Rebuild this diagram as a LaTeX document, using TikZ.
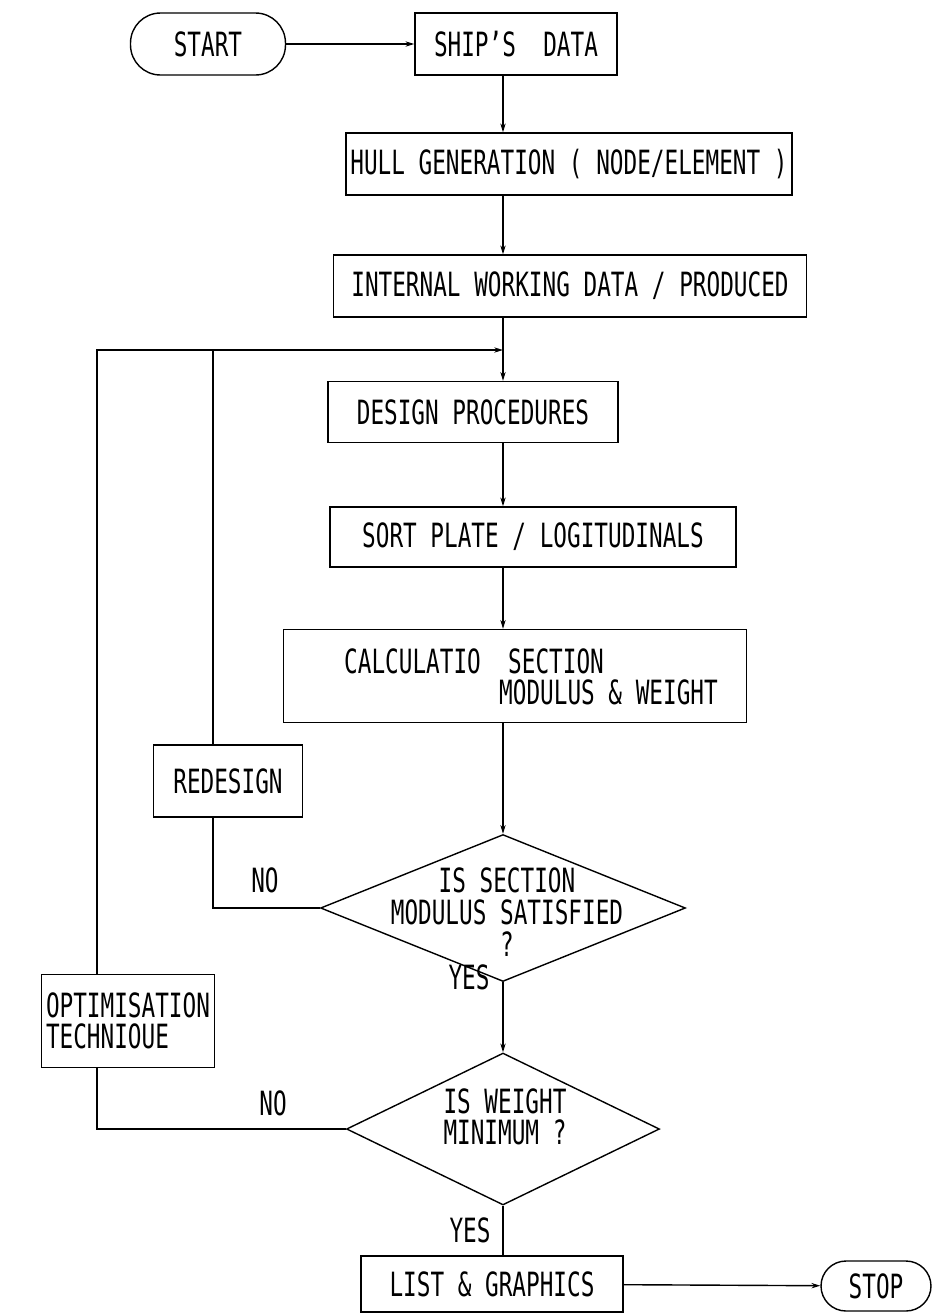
\documentclass[tikz,border=0pt]{standalone}
\usepackage{fontspec}
\setmainfont{DejaVu Sans Mono}[FakeStretch=0.68]
\usetikzlibrary{shapes,arrows.meta,positioning,calc}

\tikzset{
  box/.style={draw, thick, rectangle, inner sep=0pt},
  term/.style={draw, thick, rectangle, rounded corners=0.6cm, inner sep=0pt},
  decision/.style={draw, thick, diamond, inner sep=0pt},
  flow/.style={thick, -{Stealth[length=5pt,width=3pt]}},
  link/.style={thick}
}

\begin{document}
\begin{tikzpicture}[x=0.02cm, y=-0.02cm, font=\fontsize{19}{18}\selectfont]
\useasboundingbox (0,0) rectangle (934,1313);

% Main column
\node[term, minimum width=3.1cm, minimum height=1.24cm] (start) at (208,44) {START};
\node[box, minimum width=4.04cm, minimum height=1.24cm] (ship) at (516,44) {SHIP'S\ \ DATA};
\node[box, minimum width=8.92cm, minimum height=1.24cm] (hull) at (569,164) {HULL GENERATION ( NODE/ELEMENT )};
\node[box, minimum width=9.46cm, minimum height=1.24cm] (internal) at (570,286) {INTERNAL WORKING DATA / PRODUCED};
\coordinate (loopjoin) at (503,350);
\node[box, minimum width=5.8cm, minimum height=1.22cm] (design) at (473,412) {DESIGN PROCEDURES};
\node[box, minimum width=8.12cm, minimum height=1.2cm] (sortplate) at (533,537) {SORT PLATE / LOGITUDINALS};
\node[box, minimum width=9.26cm, minimum height=1.86cm] (calc) at (515,676) {};
\node[anchor=west, align=left] (calctext) at (338,677) {CALCULATIO\ \ SECTION\\\hspace*{3.1cm}MODULUS \& WEIGHT};

% Decisions
\node[decision, minimum width=7.3cm, minimum height=2.94cm] (modcheck) at (503,908) {};
\node[align=center] (modtext) at (507,912) {IS SECTION\\MODULUS SATISFIED\\?};
\node[decision, minimum width=6.26cm, minimum height=3.04cm] (weightcheck) at (503,1129) {};
\node[align=center] (weighttext) at (505,1117) {IS WEIGHT\\MINIMUM ?};

% Side boxes
\coordinate (inner) at (213,350);
\coordinate (outer) at (97,350);
\node[box, minimum width=2.98cm, minimum height=1.44cm] (redesign) at (228,781) {REDESIGN};
\node[box, minimum width=3.46cm, minimum height=1.86cm, align=left] (optim) at (128,1021) {OPTIMISATION\\TECHNIOUE};

% End
\node[box, minimum width=5.24cm, minimum height=1.12cm] (list) at (492,1284) {LIST \& GRAPHICS};
\node[term, rounded corners=0.5cm, minimum width=2.2cm, minimum height=1cm] (stop) at (876,1286) {STOP};

% Connectors
\draw[flow] (start) -- (ship);
\draw[flow] (ship.south -| loopjoin) -- (hull.north -| loopjoin);
\draw[flow] (hull.south -| loopjoin) -- (internal.north -| loopjoin);
\draw[link] (internal.south -| loopjoin) -- (loopjoin);
\draw[flow] (loopjoin) -- (design.north -| loopjoin);
\draw[flow] (design.south -| loopjoin) -- (sortplate.north -| loopjoin);
\draw[flow] (sortplate.south -| loopjoin) -- (calc.north -| loopjoin);
\draw[flow] (calc.south -| loopjoin) -- (modcheck.north);
\draw[flow] (modcheck.south) -- (weightcheck.north);
\draw[link] (weightcheck.south) -- (list.north -| weightcheck.south);
\draw[flow] (list) -- (stop);

% Loops back
\draw[link] (modcheck.west) -- (modcheck.west -| inner) -- (redesign.south -| inner);
\draw[link] (redesign.north -| inner) -- (inner);
\draw[link] (weightcheck.west) -- (weightcheck.west -| outer) -- (optim.south -| outer);
\draw[flow] (optim.north -| outer) -- (outer) -- (loopjoin);

% Labels
\node (no1) at (265,880) {NO};
\node (yes1) at (469,977) {YES};
\node (no2) at (273,1103) {NO};
\node (yes2) at (470,1230) {YES};
\end{tikzpicture}
\end{document}
